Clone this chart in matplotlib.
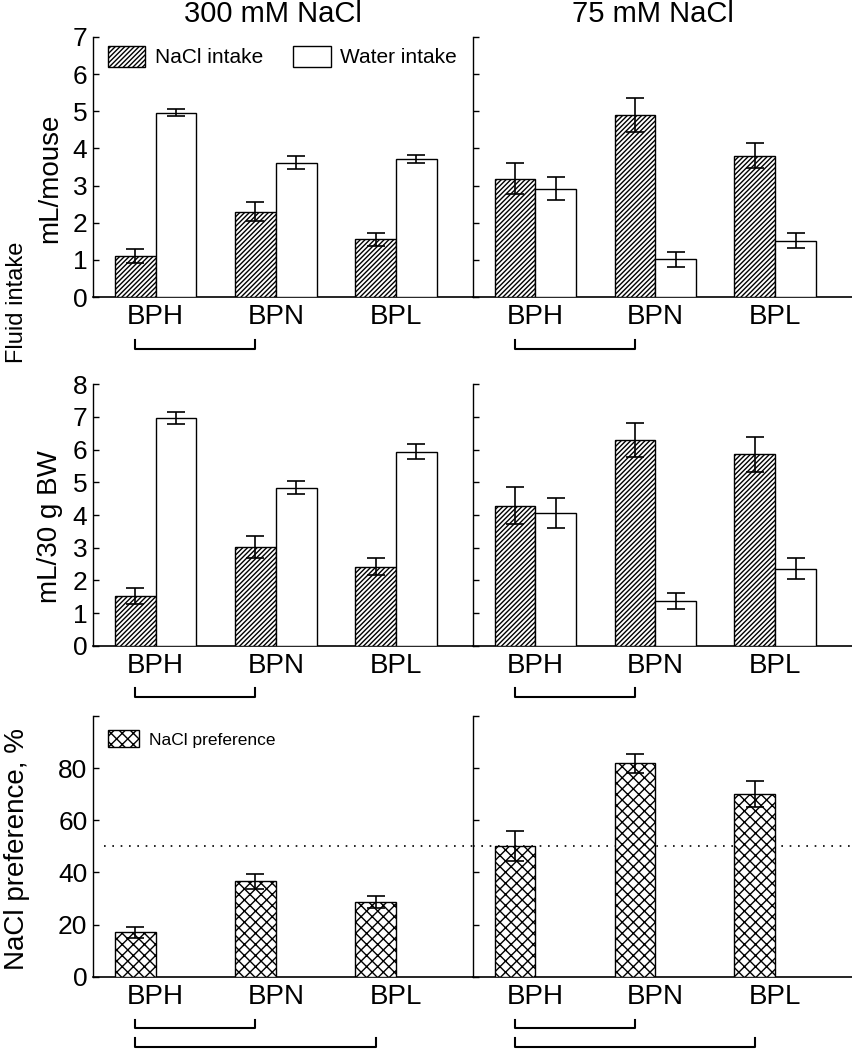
import matplotlib
matplotlib.use("Agg")
import matplotlib.pyplot as plt
import matplotlib.transforms as mtransforms
from matplotlib.patches import Patch
import numpy as np

plt.rcParams['font.family'] = ['Liberation Sans', 'DejaVu Sans']
plt.rcParams['hatch.linewidth'] = 1.0

groups = ['BPH', 'BPN', 'BPL']
conditions = ['300 mM NaCl', '75 mM NaCl']

# fluid intake, mL/mouse  (300 mM, 75 mM)
nacl_mouse = [[1.10, 2.30, 1.55], [3.19, 4.89, 3.80]]
nacl_mouse_err = [[0.19, 0.26, 0.17], [0.43, 0.46, 0.34]]
water_mouse = [[4.96, 3.62, 3.71], [2.92, 1.02, 1.51]]
water_mouse_err = [[0.09, 0.17, 0.11], [0.31, 0.20, 0.20]]

# fluid intake, mL/30 g BW
nacl_bw = [[1.53, 3.01, 2.42], [4.29, 6.30, 5.86]]
nacl_bw_err = [[0.25, 0.34, 0.27], [0.58, 0.53, 0.53]]
water_bw = [[6.96, 4.84, 5.94], [4.05, 1.37, 2.36]]
water_bw_err = [[0.18, 0.20, 0.24], [0.46, 0.24, 0.31]]

# NaCl preference, %
pref = [[17.0, 36.6, 28.7], [50.1, 81.8, 70.1]]
pref_err = [[2.2, 2.9, 2.2], [5.7, 3.8, 5.1]]

W, H = 853, 1050
fig = plt.figure(figsize=(W / 100, H / 100), dpi=100)


def px_axes(left, right, top, bottom):
    return fig.add_axes([left / W, 1 - bottom / H, (right - left) / W, (bottom - top) / H])


rows = [(37, 297), (384.3, 645.7), (716, 976.7)]
cols = [(93, 473), (473, 852)]
x = np.arange(3)
bw = 0.34
hatch_nacl = '///////'
hatch_pref = 'xxx'
err_kw = dict(fmt='none', ecolor='black', elinewidth=1.2, capsize=6.5, capthick=1.2, zorder=4)


def style(ax, ylim, yticks, labels, show_labels):
    ax.set_xlim(-0.52, 2.64)
    ax.set_ylim(*ylim)
    for s in ['top', 'right']:
        ax.spines[s].set_visible(False)
    ax.spines['left'].set_linewidth(1.0)
    ax.spines['bottom'].set_linewidth(1.2)
    ax.set_xticks(x)
    ax.set_xticklabels(groups, fontsize=20)
    ax.tick_params(axis='x', length=0, pad=5)
    ax.set_yticks(yticks)
    if show_labels:
        ax.set_yticklabels(labels, fontsize=19)
    else:
        ax.set_yticklabels([])
    ax.tick_params(axis='y', direction='in', length=4, width=1.0, pad=4)


def bracket(ax, x0, x1, ylow, yhigh):
    tr = mtransforms.blended_transform_factory(ax.transData, ax.transAxes)
    ax.plot([x0, x0, x1, x1], [yhigh, ylow, ylow, yhigh], color='black', lw=1.5,
            transform=tr, clip_on=False)


axes = []
for r, (top, bottom) in enumerate(rows):
    row = []
    for c, (left, right) in enumerate(cols):
        row.append(px_axes(left, right, top, bottom))
    axes.append(row)

for c in range(2):
    # row 1: mL/mouse
    ax = axes[0][c]
    ax.bar(x - bw / 2, nacl_mouse[c], bw, facecolor='white', edgecolor='black',
           hatch=hatch_nacl, linewidth=1.0, zorder=3)
    ax.bar(x + bw / 2, water_mouse[c], bw, facecolor='white', edgecolor='black',
           linewidth=1.0, zorder=3)
    ax.errorbar(x - bw / 2, nacl_mouse[c], yerr=nacl_mouse_err[c], **err_kw)
    ax.errorbar(x + bw / 2, water_mouse[c], yerr=water_mouse_err[c], **err_kw)
    style(ax, (0, 7), range(8), [str(v) for v in range(8)], c == 0)
    bracket(ax, 0 - bw / 2, 1 - bw / 2, -0.2, -0.165)

    # row 2: mL/30 g BW
    ax = axes[1][c]
    ax.bar(x - bw / 2, nacl_bw[c], bw, facecolor='white', edgecolor='black',
           hatch=hatch_nacl, linewidth=1.0, zorder=3)
    ax.bar(x + bw / 2, water_bw[c], bw, facecolor='white', edgecolor='black',
           linewidth=1.0, zorder=3)
    ax.errorbar(x - bw / 2, nacl_bw[c], yerr=nacl_bw_err[c], **err_kw)
    ax.errorbar(x + bw / 2, water_bw[c], yerr=water_bw_err[c], **err_kw)
    style(ax, (0, 8), range(9), [str(v) for v in range(9)], c == 0)
    bracket(ax, 0 - bw / 2, 1 - bw / 2, -0.196, -0.162)

    # row 3: preference
    ax = axes[2][c]
    ax.bar(x - bw / 2, pref[c], bw, facecolor='white', edgecolor='black',
           hatch=hatch_pref, linewidth=1.0, zorder=3)
    ax.errorbar(x - bw / 2, pref[c], yerr=pref_err[c], **err_kw)
    style(ax, (0, 100), [0, 20, 40, 60, 80, 100], ['0', '20', '40', '60', '80', ''], c == 0)
    ax.axhline(50, xmin=0.03 if c == 0 else 0, xmax=1, color='black', lw=1.2,
               linestyle=(0, (1, 4)), zorder=2)
    bracket(ax, 0 - bw / 2, 1 - bw / 2, -0.197, -0.166)
    bracket(ax, 0 - bw / 2, 2 - bw / 2, -0.27, -0.235)

# legends
h_nacl = Patch(facecolor='white', edgecolor='black', hatch=hatch_nacl, linewidth=1.0)
h_water = Patch(facecolor='white', edgecolor='black', linewidth=1.0)
axes[0][0].legend([h_nacl, h_water], ['NaCl intake', 'Water intake'], ncol=2,
                  loc='upper left', bbox_to_anchor=(0.039, 0.965), frameon=False,
                  fontsize=15, handlelength=1.8, handleheight=1.15,
                  handletextpad=0.45, columnspacing=1.45, borderpad=0, borderaxespad=0)
h_pref = Patch(facecolor='white', edgecolor='black', hatch=hatch_pref, linewidth=1.0)
axes[2][0].legend([h_pref], ['NaCl preference'], loc='upper left',
                  bbox_to_anchor=(0.039, 0.945), frameon=False, fontsize=12.5,
                  handlelength=1.8, handleheight=1.1, handletextpad=0.6,
                  borderpad=0, borderaxespad=0)

# titles and axis labels
fig.text(273 / W, 1 - 14 / H, conditions[0], ha='center', va='center', fontsize=21)
fig.text(653 / W, 1 - 14 / H, conditions[1], ha='center', va='center', fontsize=21)
fig.text(50 / W, 1 - 178 / H, 'mL/mouse', rotation=90, ha='center', va='center', fontsize=20)
fig.text(50 / W, 1 - 527 / H, 'mL/30 g BW', rotation=90, ha='center', va='center', fontsize=20)
fig.text(17 / W, 1 - 302 / H, 'Fluid intake', rotation=90, ha='center', va='center', fontsize=17)
fig.text(17 / W, 1 - 849 / H, 'NaCl preference, %', rotation=90, ha='center', va='center', fontsize=20)

fig.savefig('out.png', dpi=100)
